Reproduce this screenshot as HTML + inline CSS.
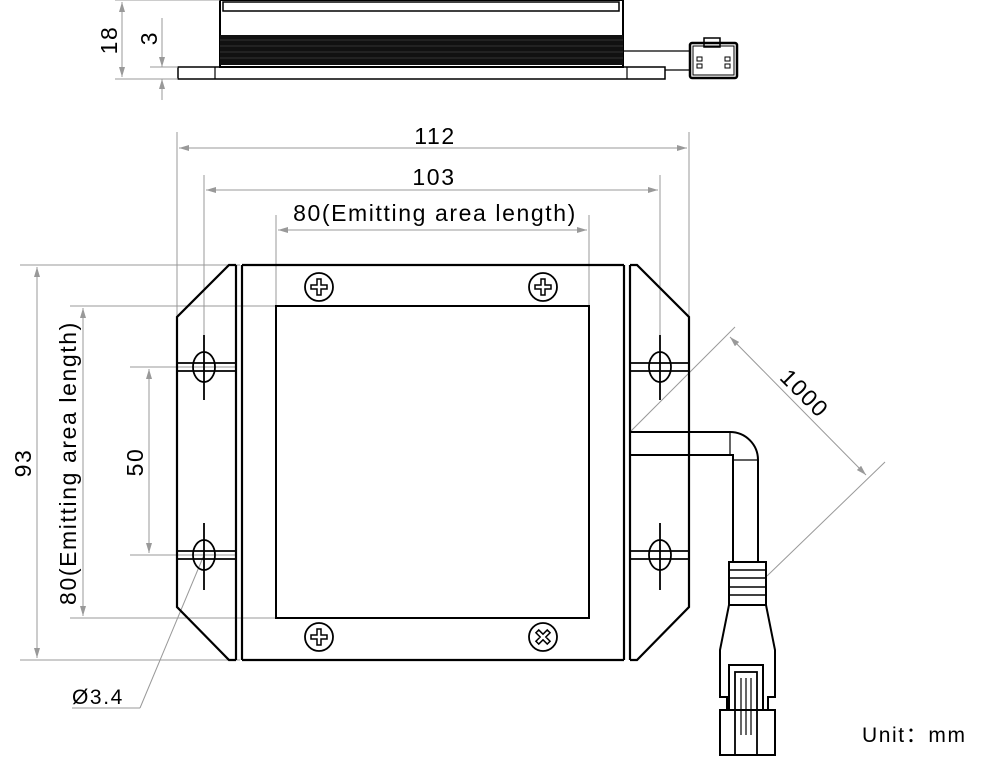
<!DOCTYPE html>
<html><head><meta charset="utf-8"><style>body{margin:0;background:#fff}svg{display:block}text{letter-spacing:1.6px}</style></head><body>
<svg width="1000" height="762" viewBox="0 0 1000 762" xmlns="http://www.w3.org/2000/svg" font-family="Liberation Sans, sans-serif">
<defs>
<marker id="a" viewBox="0 0 10 6" refX="10" refY="3" markerWidth="10" markerHeight="6" orient="auto-start-reverse" markerUnits="userSpaceOnUse"><path d="M0,0 L10,3 L0,6z" fill="#999"/></marker>
</defs>
<!-- TOP VIEW -->
<g fill="none" stroke="#000" stroke-width="2">
<rect x="220" y="0" width="403" height="67"/>
<rect x="223" y="2" width="396" height="9" stroke-width="1.5"/>
<rect x="178" y="67" width="487" height="12" stroke-width="1.5"/>
<line x1="215" y1="67" x2="215" y2="79" stroke-width="1.2"/>
<line x1="627" y1="67" x2="627" y2="79" stroke-width="1.2"/>
<rect x="690" y="43" width="47" height="35" rx="2" stroke-width="2.5"/>
<rect x="693" y="46" width="41" height="29" stroke-width="1"/>
<rect x="704" y="38" width="16" height="9" stroke-width="1.5"/>
<rect x="697" y="57" width="5" height="4" stroke-width="1"/><rect x="697" y="64" width="5" height="4" stroke-width="1"/>
<rect x="725" y="57" width="5" height="4" stroke-width="1"/><rect x="725" y="64" width="5" height="4" stroke-width="1"/>
<line x1="623" y1="51" x2="690" y2="51" stroke-width="1.2"/>
<line x1="665" y1="70" x2="690" y2="70" stroke-width="1.2"/>
</g>
<rect x="220" y="35" width="403" height="30" fill="#111"/>
<g stroke="#555" stroke-width="0.6"><line x1="220" y1="40" x2="623" y2="40"/><line x1="220" y1="46" x2="623" y2="46"/><line x1="220" y1="52" x2="623" y2="52"/><line x1="220" y1="58" x2="623" y2="58"/></g>
<g stroke="#999" stroke-width="1" fill="none">
<line x1="115" y1="0" x2="220" y2="0"/><line x1="115" y1="79" x2="178" y2="79"/><line x1="150" y1="67" x2="178" y2="67"/>
<line x1="122" y1="2" x2="122" y2="77" marker-start="url(#a)" marker-end="url(#a)"/>
<line x1="162" y1="18" x2="162" y2="67" marker-end="url(#a)"/>
<line x1="162" y1="100" x2="162" y2="79" marker-end="url(#a)"/>
</g>
<text transform="translate(117,40) rotate(-90)" font-size="23" text-anchor="middle">18</text>
<text transform="translate(157,38) rotate(-90)" font-size="23" text-anchor="middle">3</text>

<!-- MAIN VIEW dims -->
<g stroke="#999" stroke-width="1" fill="none">
<line x1="177" y1="132" x2="177" y2="317"/><line x1="689" y1="132" x2="689" y2="317"/>
<line x1="204" y1="175" x2="204" y2="400"/><line x1="660" y1="175" x2="660" y2="400"/>
<line x1="276" y1="215" x2="276" y2="306"/><line x1="589" y1="215" x2="589" y2="306"/>
<line x1="179" y1="148" x2="687" y2="148" marker-start="url(#a)" marker-end="url(#a)"/>
<line x1="206" y1="190" x2="658" y2="190" marker-start="url(#a)" marker-end="url(#a)"/>
<line x1="278" y1="230" x2="587" y2="230" marker-start="url(#a)" marker-end="url(#a)"/>
<line x1="20" y1="265" x2="240" y2="265"/><line x1="20" y1="660" x2="240" y2="660"/>
<line x1="70" y1="306" x2="276" y2="306"/><line x1="70" y1="618" x2="276" y2="618"/>
<line x1="130" y1="367" x2="236" y2="367"/><line x1="130" y1="555" x2="236" y2="555"/>
<line x1="37" y1="267" x2="37" y2="658" marker-start="url(#a)" marker-end="url(#a)"/>
<line x1="83" y1="308" x2="83" y2="616" marker-start="url(#a)" marker-end="url(#a)"/>
<line x1="149" y1="369" x2="149" y2="553" marker-start="url(#a)" marker-end="url(#a)"/>
<line x1="735" y1="327" x2="631" y2="431"/><line x1="885" y1="462" x2="767" y2="576"/>
<line x1="730" y1="337" x2="866" y2="475" marker-start="url(#a)" marker-end="url(#a)"/>
<line x1="204" y1="555" x2="140" y2="708"/><line x1="140" y1="708" x2="72" y2="708"/>
</g>
<text x="435" y="144" font-size="23" text-anchor="middle">112</text>
<text x="434" y="185" font-size="23" text-anchor="middle">103</text>
<text x="435" y="221" font-size="23" text-anchor="middle">80(Emitting area length)</text>
<text transform="translate(31,463) rotate(-90)" font-size="23" text-anchor="middle">93</text>
<text transform="translate(76,463) rotate(-90)" font-size="23" text-anchor="middle">80(Emitting area length)</text>
<text transform="translate(143,462) rotate(-90)" font-size="23" text-anchor="middle">50</text>
<text transform="translate(799,399) rotate(45)" font-size="23" text-anchor="middle">1000</text>
<text x="72" y="704" font-size="21">Ø3.4</text>
<text x="862" y="742" font-size="21">Unit：mm</text>

<!-- body -->
<g fill="none" stroke="#000" stroke-width="2.2">
<polyline points="236,265 229,265 177,317 177,607 229,660 236,660"/>
<polyline points="630,265 637,265 689,317 689,607 637,660 630,660"/>
<line x1="236" y1="265" x2="236" y2="660"/><line x1="242" y1="265" x2="242" y2="660"/>
<line x1="624" y1="265" x2="624" y2="660"/><line x1="630" y1="265" x2="630" y2="660"/>
<line x1="242" y1="265" x2="624" y2="265"/><line x1="242" y1="660" x2="624" y2="660"/>
<rect x="276" y="306" width="313" height="312" stroke-width="2"/>
<g stroke-width="1.8">
<line x1="177" y1="363" x2="236" y2="363"/><line x1="177" y1="371" x2="236" y2="371"/>
<line x1="177" y1="551" x2="236" y2="551"/><line x1="177" y1="559" x2="236" y2="559"/>
<line x1="630" y1="363" x2="689" y2="363"/><line x1="630" y1="371" x2="689" y2="371"/>
<line x1="630" y1="551" x2="689" y2="551"/><line x1="630" y1="559" x2="689" y2="559"/>
<ellipse cx="204" cy="367" rx="11" ry="15"/><ellipse cx="204" cy="555" rx="11" ry="15"/>
<ellipse cx="660" cy="367" rx="11" ry="15"/><ellipse cx="660" cy="555" rx="11" ry="15"/>
<line x1="204" y1="335" x2="204" y2="400"/><line x1="204" y1="523" x2="204" y2="590"/>
<line x1="660" y1="335" x2="660" y2="400"/><line x1="660" y1="523" x2="660" y2="590"/>
<circle cx="319" cy="287" r="14"/><circle cx="543" cy="287" r="14"/>
<circle cx="319" cy="637" r="14"/><circle cx="543" cy="637" r="14"/>
</g>
<g stroke-width="1.5">
<path d="M317,279h4v6h6v4h-6v6h-4v-6h-6v-4h6z"/>
<path d="M541,279h4v6h6v4h-6v6h-4v-6h-6v-4h6z"/>
<path d="M317,629h4v6h6v4h-6v6h-4v-6h-6v-4h6z"/>
<path d="M541,629h4v6h6v4h-6v6h-4v-6h-6v-4h6z" transform="rotate(45 543 637)"/>
</g>
<!-- cable -->
<path d="M630,432 H730 A28,28 0 0 1 758,460 V562" stroke-width="2"/>
<path d="M630,455 H733 V562" stroke-width="2"/>
<line x1="730" y1="432" x2="730" y2="455" stroke-width="1.2"/>
<line x1="733" y1="460" x2="758" y2="460" stroke-width="1.2"/>
<rect x="729" y="562" width="37" height="43" stroke-width="2"/>
<line x1="729" y1="570" x2="766" y2="570" stroke-width="1.5"/>
<line x1="729" y1="578" x2="766" y2="578" stroke-width="1.5"/>
<line x1="729" y1="587" x2="766" y2="587" stroke-width="1.5"/>
<line x1="729" y1="595" x2="766" y2="595" stroke-width="1.5"/>
<path d="M729,605 L720,650 V697 H727 V710 M766,605 L775,650 V697 H768 V710" stroke-width="2"/>
<rect x="729" y="665" width="34" height="45" stroke-width="2"/>
<rect x="720" y="710" width="55" height="45" stroke-width="2"/>
<rect x="735" y="672" width="22" height="83" stroke-width="1.8"/>
<line x1="741" y1="678" x2="741" y2="735" stroke-width="1.2"/>
<line x1="746" y1="678" x2="746" y2="735" stroke-width="1.2"/>
<line x1="751" y1="678" x2="751" y2="735" stroke-width="1.2"/>
</g>
</svg>
</body></html>
